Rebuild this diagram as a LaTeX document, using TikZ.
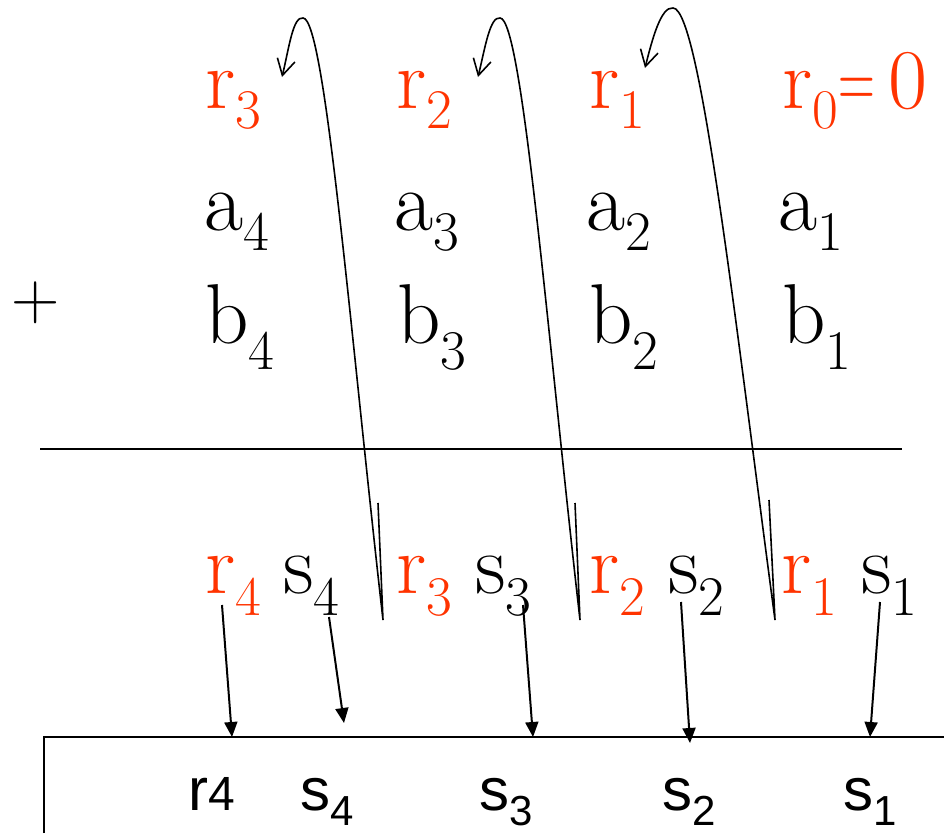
\documentclass[tikz,border=0pt]{standalone}
\usepackage{fontspec}
\newfontfamily\boxfont{Liberation Sans}
\usetikzlibrary{arrows.meta}
\definecolor{carry}{HTML}{FF3300}
\newcommand\bigtxt{\rmfamily\fontsize{85}{85}\selectfont}
\newcommand\subdig[2][20pt]{\raisebox{-#1}{\fontsize{56}{56}\selectfont #2}}
\newcommand\boxsub[1]{\raisebox{-15pt}{\fontsize{42}{42}\selectfont #1}}
\begin{document}
\begin{tikzpicture}[x=1pt,y=-1pt,
  lbl/.style={anchor=base west, inner sep=0pt, font=\bigtxt},
  carrylbl/.style={lbl, text=carry},
  boxlbl/.style={anchor=base west, inner sep=0pt, font=\boxfont\fontsize{60}{60}\selectfont},
  loop/.style={line width=1.6pt, -{Straight Barb[length=16pt,width=18pt]}},
  feed/.style={line width=2pt, -{Triangle[length=15pt,width=13pt]}},
  rule/.style={line width=2pt}]
\useasboundingbox (0,0) rectangle (944,833);
% row 1: carries in
\node[carrylbl] (c3) at (205,108) {r\subdig{3}};
\node[carrylbl] (c2) at (396,108) {r\subdig{2}};
\node[carrylbl] (c1) at (589,108) {r\subdig{1}};
\node[carrylbl] (c0) at (782,108) {r\subdig{0}\scalebox{0.6}[1]{=}\hspace{14pt}0};
% row 2: a
\node[lbl] (a4) at (204,230) {a\subdig{4}};
\node[lbl] (a3) at (394,230) {a\subdig{3}};
\node[lbl] (a2) at (586,230) {a\subdig{2}};
\node[lbl] (a1) at (778,230) {a\subdig{1}};
% row 3: b
\node[lbl, font=\rmfamily\fontsize{67}{67}\selectfont] (plus) at (11,319) {+};
\node[lbl] (b4) at (205,343) {b\subdig[26pt]{4}};
\node[lbl] (b3) at (397,343) {b\subdig[26pt]{3}};
\node[lbl] (b2) at (589,343) {b\subdig[26pt]{2}};
\node[lbl] (b1) at (782,343) {b\subdig[26pt]{1}};
% rule
\coordinate (ruleL) at (40,449);
\coordinate (ruleR) at (902,449);
\draw[rule] (ruleL) -- (ruleR);
% row 4: results
\node[carrylbl] (r4) at (205,593) {r\subdig[22pt]{4}};
\node[lbl] (s4) at (283,593) {s\subdig[22pt]{4}};
\node[carrylbl] (r3) at (396,593) {r\subdig[22pt]{3}};
\node[lbl] (s3) at (475,593) {s\subdig[22pt]{3}};
\node[carrylbl] (r2) at (589,593) {r\subdig[22pt]{2}};
\node[lbl] (s2) at (668,593) {s\subdig[22pt]{2}};
\node[carrylbl] (r1) at (781,593) {r\subdig[22pt]{1}};
\node[lbl] (s1) at (861,593) {s\subdig[22pt]{1}};
% carry loops
\coordinate (l1s) at (378,503); \coordinate (l1b) at (383,620);
\coordinate (l1t) at (303,18);  \coordinate (l1e) at (282,77);
\coordinate (l2s) at (575,503); \coordinate (l2b) at (580,620);
\coordinate (l2t) at (500,18);  \coordinate (l2e) at (478,77);
\coordinate (l3s) at (769,500); \coordinate (l3b) at (775,620);
\coordinate (l3t) at (673,8);   \coordinate (l3e) at (645,68);
\draw[loop] (l1s) -- (l1b) .. controls +(-33,-290) and +(22,0) .. (l1t)
  .. controls +(-10,-2) and +(7,-29) .. (l1e);
\draw[loop] (l2s) -- (l2b) .. controls +(-33,-290) and +(22,0) .. (l2t)
  .. controls +(-10,-2) and +(7,-29) .. (l2e);
\draw[loop] (l3s) -- (l3b) .. controls +(-40,-300) and +(27,0) .. (l3t)
  .. controls +(-12,-2) and +(7,-28) .. (l3e);
% output box
\coordinate (boxBL) at (44,833);
\coordinate (boxTL) at (44,737);
\coordinate (boxTR) at (944,737);
\draw[rule] (boxBL) -- (boxTL) -- (boxTR);
\node[boxlbl] (or4) at (188,810) {r{\fontsize{48}{48}\selectfont 4}};
\node[boxlbl] (os4) at (300,810) {s\boxsub{4}};
\node[boxlbl] (os3) at (479,810) {s\boxsub{3}};
\node[boxlbl] (os2) at (662,810) {s\boxsub{2}};
\node[boxlbl] (os1) at (843,810) {s\boxsub{1}};
% feed arrows
\coordinate (f4a) at (222,605); \coordinate (f4b) at (232,737);
\coordinate (g4a) at (329,617); \coordinate (g4b) at (344,723);
\coordinate (g3a) at (523,605); \coordinate (g3b) at (533,737);
\coordinate (g2a) at (681,602); \coordinate (g2b) at (690,743);
\coordinate (g1a) at (880,602); \coordinate (g1b) at (870,737);
\draw[feed] (f4a) -- (f4b);
\draw[feed] (g4a) -- (g4b);
\draw[feed] (g3a) -- (g3b);
\draw[feed] (g2a) -- (g2b);
\draw[feed] (g1a) -- (g1b);
\end{tikzpicture}
\end{document}
